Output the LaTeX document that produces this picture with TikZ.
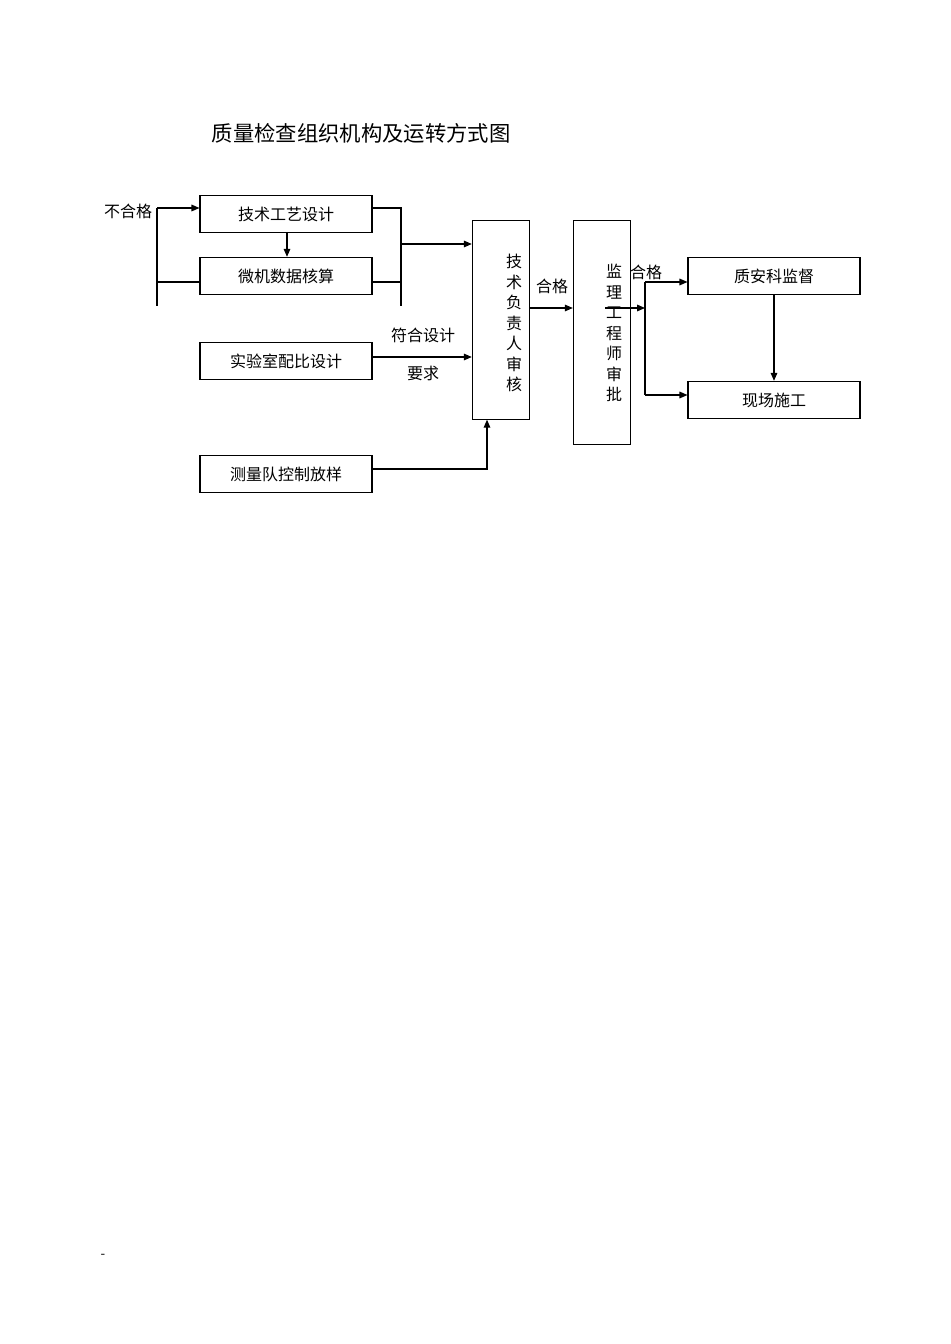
\documentclass[tikz,border=0pt]{standalone}
\usepackage{fontspec}
\setmainfont{Noto Sans CJK SC}
\usetikzlibrary{arrows.meta,positioning}
\begin{document}
\begin{tikzpicture}[x=0.75pt,y=-0.75pt,>={Triangle[length=6pt,width=5pt]},
  box/.style={draw,thick,minimum width=129pt,minimum height=28pt,font=\fontsize{12}{14}\selectfont},
  tall/.style={draw,thick,minimum width=43pt,anchor=north},
  lbl/.style={font=\fontsize{12}{14}\selectfont},
  vtext/.style={align=center,font=\fontsize{12}{15.4}\selectfont}]
\useasboundingbox (0,0) rectangle (950,1344);
\node[font=\fontsize{16}{18}\selectfont] (title) at (361,133) {质量检查组织机构及运转方式图};

% left column
\node[box] (tech) at (286,214) {技术工艺设计};
\node[box] (calc) at (286,276) {微机数据核算};
\node[box] (lab) at (286,361) {实验室配比设计};
\node[box] (survey) at (286,474) {测量队控制放样};

% review columns
\node[tall,minimum height=149pt] (chief) at (501,220) {};
\node[vtext] at (514,323) {技\\术\\负\\责\\人\\审\\核};
\node[tall,minimum height=168pt] (super) at (602,220) {};
\node[vtext] at (614,333) {监\\理\\工\\程\\师\\审\\批};

% right column
\node[box] (safety) at (774,276) {质安科监督};
\node[box] (site) at (774,400) {现场施工};

% labels
\node[lbl] (fail) at (128,211) {不合格};
\node[lbl] (meet) at (423,335) {符合设计};
\node[lbl] (req) at (423,373) {要求};
\node[lbl] (ok1) at (552,286) {合格};
\node[lbl] (ok2) at (646,272) {合格};
\node at (103,1256) {-};

% connections
\coordinate (lt) at (157,306);
\coordinate (rt) at (401,306);
\draw[thick] (lt) -- (157,208);
\draw[thick,->] (157,208) -- (tech.west |- 0,208);
\draw[thick] (157,282) -- (calc.west |- 0,282);
\draw[thick] (tech.east |- 0,208) -- (401,208) -- (rt);
\draw[thick] (calc.east |- 0,282) -- (401,282);
\draw[thick,->] (401,244) -- (chief.west |- 0,244);
\draw[thick,->] (287,232) -- (calc.north -| 287,0);
\draw[thick,->] (lab.east |- 0,357) -- (chief.west |- 0,357);
\draw[thick,->] (survey.east |- 0,469) -- (487,469) -- (chief.south -| 487,0);
\draw[thick,->] (chief.east |- 0,308) -- (super.west |- 0,308);
\draw[thick,->] (605,308) -- (645,308);
\draw[thick] (645,282) -- (645,395);
\draw[thick,->] (645,282) -- (safety.west |- 0,282);
\draw[thick,->] (645,395) -- (site.west |- 0,395);
\draw[thick,->] (safety) -- (site);
\end{tikzpicture}
\end{document}
